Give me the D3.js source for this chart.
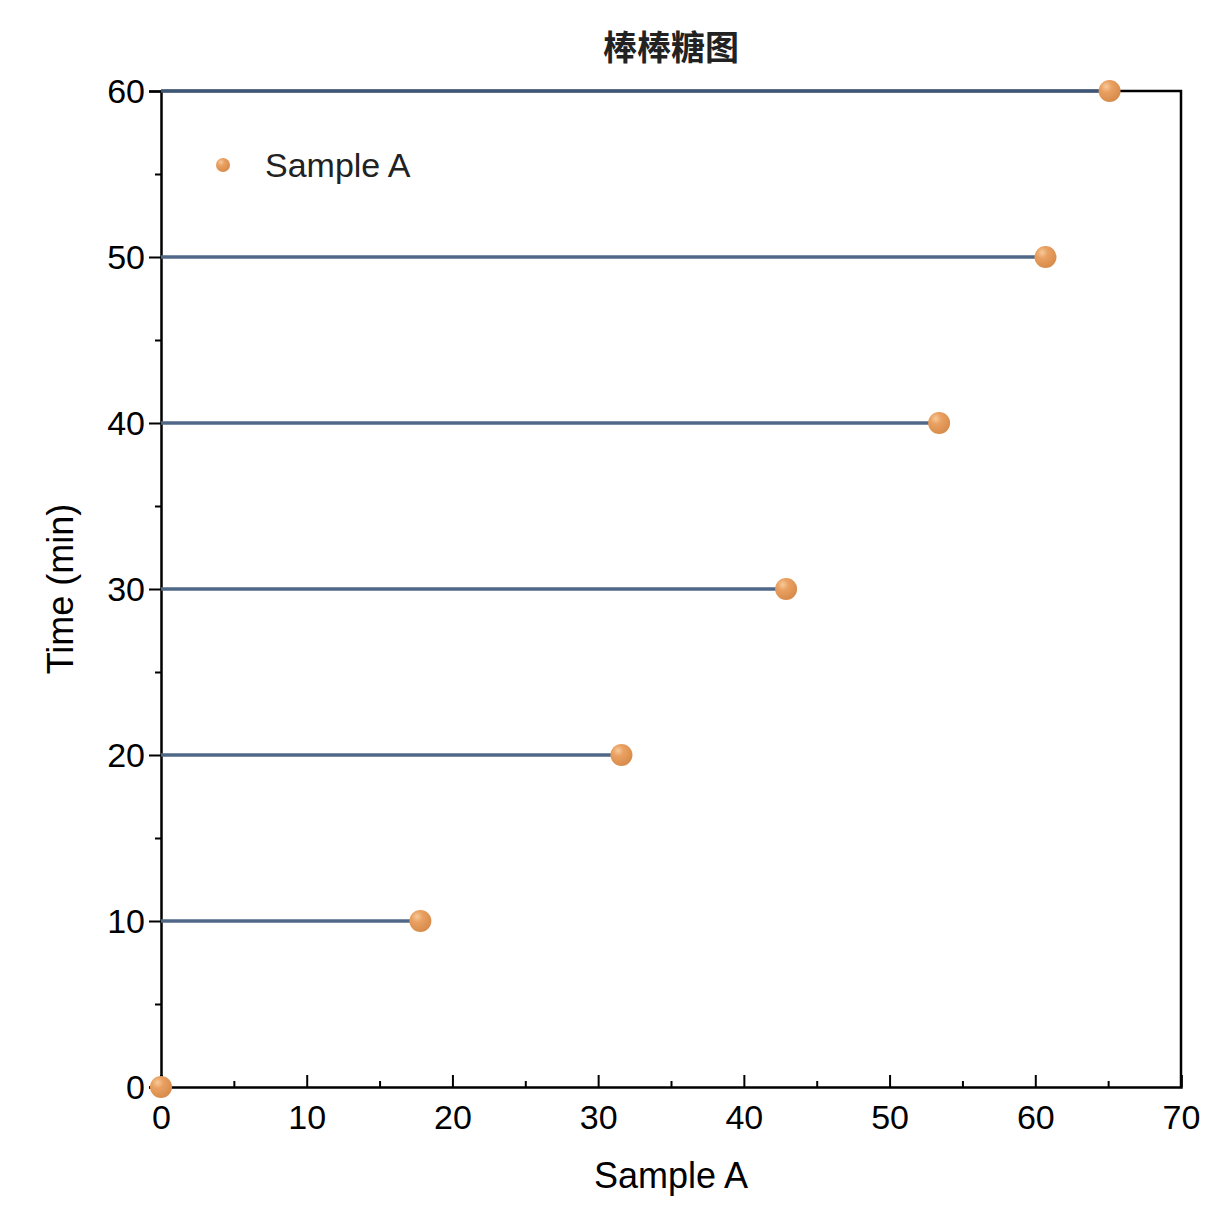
<!DOCTYPE html>
<html><head><meta charset="utf-8">
<script src="https://cdn.jsdelivr.net/npm/d3@7"></script>
<style>body{margin:0;background:#fff}</style>
</head><body>
<svg id="chart"></svg>
<script>
const times = [0, 10, 20, 30, 40, 50, 60];
const sampleA = [0, 17.8, 31.6, 42.9, 53.4, 60.7, 65.1];
const xTicks = [0, 10, 20, 30, 40, 50, 60, 70];
const yTicks = [0, 10, 20, 30, 40, 50, 60];

const W = 1224, H = 1224;
const margin = { top: 91, right: 43, bottom: 137, left: 161 };
const width = W - margin.left - margin.right;
const height = H - margin.top - margin.bottom;

const svg = d3.select("#chart").attr("width", W).attr("height", H)
  .style("font-family", "Liberation Sans, Arial, sans-serif");

const defs = svg.append("defs");
const grad = defs.append("radialGradient").attr("id", "ball")
  .attr("cx", "35%").attr("cy", "30%").attr("r", "75%");
grad.append("stop").attr("offset", "0%").attr("stop-color", "#f7c99a");
grad.append("stop").attr("offset", "35%").attr("stop-color", "#e9a060");
grad.append("stop").attr("offset", "100%").attr("stop-color", "#d68a4a");

const chart = svg.append("g").attr("transform", `translate(${margin.left},${margin.top})`);

const x = d3.scaleLinear().domain([0, 70]).range([0, width]);
const y = d3.scaleLinear().domain([0, 60]).range([height, 0]);

// frame (top/right)
chart.append("path")
  .attr("d", `M0,0H${width}V${height}`)
  .attr("fill", "none").attr("stroke", "#000").attr("stroke-width", 2.5);

const xAxis = chart.append("g").attr("transform", `translate(0,${height})`)
  .call(d3.axisBottom(x).tickValues(xTicks).tickSize(-12).tickPadding(18));
chart.append("g").attr("transform", `translate(0,${height})`)
  .call(d3.axisBottom(x).tickValues(d3.range(5, 70, 10)).tickSize(-6).tickFormat(""))
  .select(".domain").remove();
const yAxis = chart.append("g")
  .call(d3.axisLeft(y).tickValues(yTicks).tickSize(12).tickPadding(4));
chart.append("g")
  .call(d3.axisLeft(y).tickValues(d3.range(5, 60, 10)).tickSize(6).tickFormat(""))
  .select(".domain").remove();
chart.selectAll(".domain").attr("stroke-width", 2.5);
chart.selectAll(".tick line").attr("stroke-width", 2);
chart.selectAll(".tick text").style("font-size", "34px").attr("fill", "#000");
yAxis.selectAll(".tick text").attr("dy", "0.35em");

// stems
chart.selectAll(".stem").data(times).join("line")
  .attr("class", "stem")
  .attr("x1", x(0)).attr("x2", (d, i) => x(sampleA[i]))
  .attr("y1", d => y(d)).attr("y2", d => y(d))
  .attr("stroke", (d, i) => i === times.length - 1 ? "#3d5676" : "#4f6887")
  .attr("stroke-width", 3.5);

// lollipops
chart.selectAll(".dot").data(times).join("circle")
  .attr("class", "dot")
  .attr("cx", (d, i) => x(sampleA[i])).attr("cy", d => y(d))
  .attr("r", 11).attr("fill", "url(#ball)");

// legend
chart.append("circle").attr("cx", 62).attr("cy", 74).attr("r", 7).attr("fill", "url(#ball)");
chart.append("text").attr("x", 104).attr("y", 74).attr("dy", "0.35em")
  .style("font-size", "34px").attr("fill", "#222").text("Sample A");

// titles
svg.append("text").attr("x", 671).attr("y", 60).attr("text-anchor", "middle")
  .style("font-family", "Noto Sans CJK SC").style("font-size", "34px").style("font-weight", "bold")
  .attr("fill", "#222").text("棒棒糖图");
svg.append("text").attr("x", 671).attr("y", 1188).attr("text-anchor", "middle")
  .style("font-size", "36px").text("Sample A");
svg.append("text").attr("transform", `translate(73,${margin.top + height / 2}) rotate(-90)`)
  .attr("text-anchor", "middle").style("font-size", "36px").text("Time (min)");
</script>
</body></html>
